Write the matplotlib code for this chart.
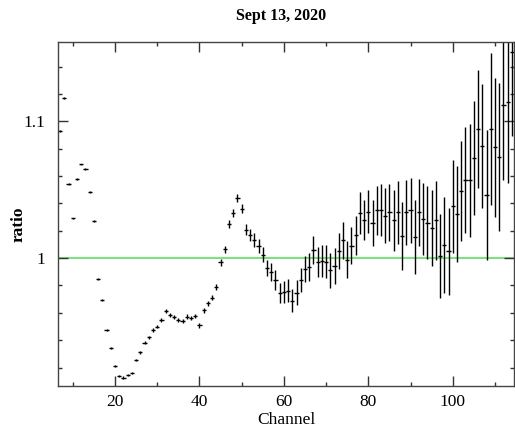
import matplotlib
matplotlib.use("Agg")
import matplotlib.pyplot as plt
import numpy as np

# channel / ratio / error
channels = list(range(7, 115))
ratio = [1.093, 1.117, 1.054, 1.029, 1.058, 1.0685, 1.065, 1.048, 1.027, 0.985,
         0.9695, 0.9475, 0.934, 0.921, 0.914, 0.9126, 0.9146, 0.916, 0.9256, 0.931,
         0.938, 0.942, 0.9475, 0.950, 0.9548, 0.9614, 0.9585, 0.9568, 0.9548, 0.954,
         0.9573, 0.956, 0.9578, 0.951, 0.9617, 0.967, 0.9712, 0.979, 0.9968, 1.0066,
         1.025, 1.033, 1.044, 1.036, 1.0207, 1.017, 1.0134, 1.009, 1.0024, 0.9927,
         0.9898, 0.984, 0.9744, 0.975, 0.9763, 0.969, 0.9748, 0.984, 0.992, 0.9934,
         1.006, 0.997, 0.998, 0.9975, 0.991, 0.9944, 1.005, 1.013, 0.9988, 1.009,
         1.0168, 1.033, 1.028, 1.034, 1.026, 1.035, 1.035, 1.031, 1.0334, 1.0275,
         1.0334, 1.016, 1.0334, 1.035, 1.0154, 1.0334, 1.0286, 1.026, 1.022, 1.0275,
         1.0017, 1.0097, 1.005, 1.0378, 1.0324, 1.0488, 1.0573, 1.0568, 1.0732, 1.0944,
         1.082, 1.0463, 1.0944, 1.081, 1.074, 1.112, 1.114, 1.151]
ratio_err = [0.0006, 0.0006, 0.0006, 0.0006, 0.0006, 0.0006, 0.0007, 0.0007, 0.0007, 0.0007,
             0.0008, 0.0008, 0.0008, 0.0008, 0.0009, 0.0009, 0.0009, 0.001, 0.001, 0.001,
             0.0011, 0.0011, 0.0012, 0.0012, 0.0013, 0.0013, 0.0014, 0.0014, 0.0015, 0.0015,
             0.0016, 0.0016, 0.0017, 0.0018, 0.0019, 0.002, 0.0021, 0.0022, 0.0024, 0.0025,
             0.0027, 0.0028, 0.003, 0.0032, 0.004, 0.0045, 0.005, 0.0053, 0.0056, 0.006,
             0.0065, 0.007, 0.0075, 0.008, 0.0085, 0.0085, 0.009, 0.009, 0.0095, 0.01,
             0.0105, 0.011, 0.0115, 0.012, 0.0125, 0.013, 0.013, 0.0134, 0.0134, 0.0134,
             0.0143, 0.0153, 0.0146, 0.0159, 0.0168, 0.018, 0.019, 0.02, 0.021, 0.022,
             0.023, 0.025, 0.0235, 0.0238, 0.0268, 0.0246, 0.026, 0.027, 0.028, 0.029,
             0.0305, 0.035, 0.032, 0.034, 0.035, 0.0366, 0.0386, 0.041, 0.042, 0.043,
             0.045, 0.0476, 0.0555, 0.051, 0.054, 0.055, 0.059, 0.062]
chan_halfwidth = [0.5] * len(channels)

plt.rcParams['font.family'] = ['Liberation Serif', 'DejaVu Serif']

fig = plt.figure(figsize=(5.15, 4.33), dpi=100)
ax = fig.add_axes([58 / 515, 1 - 386 / 433, 456 / 515, 344 / 433])

ax.axhline(1.0, color='#7ee07e', linewidth=1.5, zorder=1)
ax.errorbar(channels, ratio, yerr=ratio_err, xerr=chan_halfwidth, fmt='none',
            ecolor='black', elinewidth=1.0, capsize=0, zorder=2)

ax.set_xlim(6.5, 114.5)
ax.set_ylim(0.9065, 1.158)

ax.set_xticks([20, 40, 60, 80, 100])
ax.set_xticks(np.arange(10, 115, 10), minor=True)
ax.set_yticks([1.0, 1.1])
ax.set_yticklabels(['1', '1.1'])
ax.set_yticks(np.arange(0.92, 1.16, 0.02), minor=True)

ax.tick_params(which='both', direction='in', top=True, right=True,
               colors='#333333', labelcolor='black', labelsize=12.5)
ax.tick_params(which='major', length=7, width=1)
ax.tick_params(which='minor', length=3, width=1)
ax.tick_params(axis='y', pad=9)
ax.tick_params(axis='x', pad=6)

for sp in ax.spines.values():
    sp.set_color('#444444')
    sp.set_linewidth(1.0)

ax.set_xlabel('Channel', fontsize=12.5, labelpad=1)
ax.set_ylabel('ratio', fontsize=12.5, fontweight='bold')
ax.yaxis.set_label_coords(-0.068, 0.47)
fig.text(0.545, 0.963, 'Sept 13, 2020', ha='center', va='center',
         fontsize=11.5, fontweight='bold')

fig.savefig('out.png', dpi=100)
